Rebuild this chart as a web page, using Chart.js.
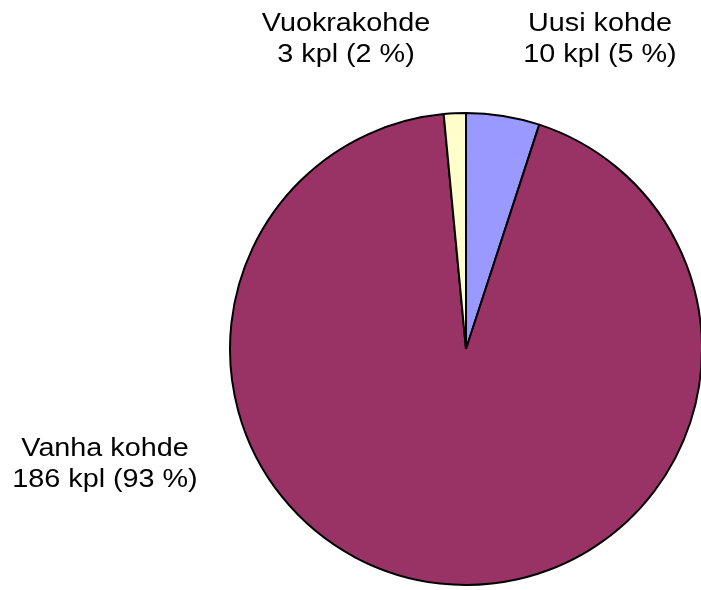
<!DOCTYPE html>
<html>
<head>
<meta charset="utf-8">
<script src="https://cdn.jsdelivr.net/npm/chart.js@4"></script>
<style>
  html, body { margin: 0; padding: 0; background: #fff; overflow: hidden; }
  #wrap { width: 705px; height: 590px; }
</style>
</head>
<body>
<div id="wrap"><canvas id="grafico"></canvas></div>
<script>
// Datos del gráfico
var kategoriat = ["Uusi kohde", "Vanha kohde", "Vuokrakohde"];
var maarat = [10, 186, 3];
var varit = ["#9999FF", "#993366", "#FFFFCC"];

// Posiciones de las etiquetas (centro del texto, línea base de la primera línea)
var etiquetaPos = [
    { x: 600, y: 31 },
    { x: 105, y: 456 },
    { x: 346, y: 31 }
];

var etiquetasPlugin = {
    id: "etiquetas",
    afterDraw: function (chart) {
        var ctx = chart.ctx;
        var total = maarat.reduce(function (a, b) { return a + b; }, 0);
        ctx.save();
        ctx.fillStyle = "#000";
        ctx.font = "25px 'Liberation Sans', Arial, sans-serif";
        ctx.textAlign = "center";
        ctx.textBaseline = "alphabetic";
        kategoriat.forEach(function (nimi, i) {
            var pct = Math.round(maarat[i] / total * 100);
            var rivit = [nimi, maarat[i] + " kpl (" + pct + " %)"];
            var p = etiquetaPos[i];
            rivit.forEach(function (r, j) {
                ctx.save();
                ctx.translate(p.x, p.y + j * 30.5);
                ctx.scale(1.15, 1);
                ctx.fillText(r, 0, 0);
                ctx.restore();
            });
        });
        ctx.restore();
    }
};

var ctx = document.getElementById("grafico").getContext("2d");
var myChart = new Chart(ctx, {
    type: "pie",
    data: {
        labels: kategoriat,
        datasets: [
            {
                data: maarat,
                backgroundColor: varit,
                borderColor: "#000",
                borderWidth: 2,
            },
        ],
    },
    options: {
        responsive: true,
        maintainAspectRatio: false,
        animation: false,
        layout: {
            padding: { left: 229, top: 112, right: 2, bottom: 4 },
        },
        plugins: {
            legend: { display: false },
            tooltip: { enabled: false },
        },
    },
    plugins: [etiquetasPlugin],
});
</script>
</body>
</html>
